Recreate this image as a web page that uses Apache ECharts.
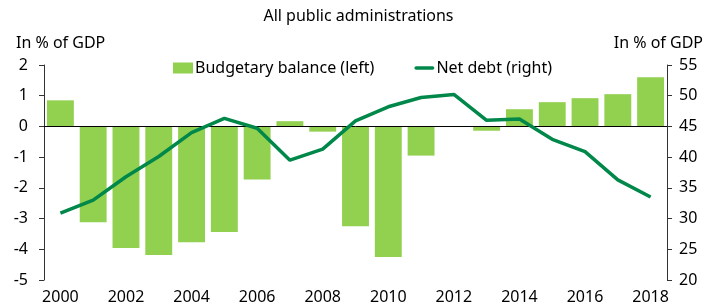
<!DOCTYPE html>
<html>
<head>
<meta charset="utf-8">
<script src="https://cdn.jsdelivr.net/npm/echarts@6/dist/echarts.min.js"></script>
<style>
  html, body { margin: 0; padding: 0; background: #fff; }
  #chart { width: 717px; height: 305px; }
</style>
</head>
<body>
<div id="chart"></div>
<script>
    // data
    var years = ['2000', '2001', '2002', '2003', '2004', '2005', '2006', '2007', '2008', '2009',
                 '2010', '2011', '2012', '2013', '2014', '2015', '2016', '2017', '2018'];
    var budgetBalance = [0.85, -3.12, -3.96, -4.19, -3.77, -3.44, -1.73, 0.17, -0.17, -3.25,
                         -4.25, -0.95, -0.02, -0.14, 0.56, 0.79, 0.92, 1.05, 1.6];
    var netDebt = [30.9, 33.0, 36.8, 40.1, 44.0, 46.3, 44.7, 39.5, 41.3, 45.9,
                   48.2, 49.7, 50.2, 46.0, 46.2, 42.9, 40.9, 36.3, 33.5];
    var leftTicks = [-5, 2, 1];   // min, max, interval
    var rightTicks = [20, 55, 5];

    var font = 'Noto Sans';
    var txt = '#000';

    var chart = echarts.init(document.getElementById('chart'));
    var option = {
        animation: false,
        textStyle: { fontFamily: font },
        title: [
            { text: 'All public administrations', left: 'center', top: 3,
              textStyle: { fontSize: 16, fontWeight: 'normal', color: txt, fontFamily: font } },
            { text: 'In % of GDP', left: 11, top: 30,
              textStyle: { fontSize: 16, fontWeight: 'normal', color: txt, fontFamily: font } },
            { text: 'In % of GDP', right: 9, top: 30,
              textStyle: { fontSize: 16, fontWeight: 'normal', color: txt, fontFamily: font } }
        ],
        legend: {
            top: 55,
            left: 168,
            itemGap: 40,
            itemWidth: 20,
            itemHeight: 11,
            textStyle: { fontSize: 16, color: txt, fontFamily: font, padding: [0, 0, 0, -3] },
            data: [
                { name: 'Budgetary balance (left)', icon: 'rect' },
                { name: 'Net debt (right)', icon: 'path://M2,0L20,0A2,2 0 0 1 20,4L2,4A2,2 0 0 1 2,0Z' }
            ]
        },
        grid: {
            left: 44,
            right: 50,
            top: 65,
            bottom: 24
        },
        xAxis: {
            type: 'category',
            data: years,
            axisLine: { show: false },
            axisTick: { show: false },
            axisLabel: { interval: 1, fontSize: 16, color: txt, margin: 9 }
        },
        yAxis: [{
            type: 'value',
            min: leftTicks[0],
            max: leftTicks[1],
            interval: leftTicks[2],
            position: 'left',
            splitLine: { show: false },
            axisLine: { show: true, lineStyle: { color: '#333', width: 1 } },
            axisTick: { show: true, length: 5, lineStyle: { color: '#333' } },
            axisLabel: { fontSize: 16, color: txt, margin: 16 }
        }, {
            type: 'value',
            min: rightTicks[0],
            max: rightTicks[1],
            interval: rightTicks[2],
            position: 'right',
            splitLine: { show: false },
            axisLine: { show: true, lineStyle: { color: '#333', width: 1 } },
            axisTick: { show: true, length: 5, lineStyle: { color: '#333' } },
            axisLabel: { fontSize: 16, color: txt, margin: 12 }
        }],
        series: [{
            name: 'Budgetary balance (left)',
            type: 'bar',
            yAxisIndex: 0,
            barCategoryGap: '18%',
            data: budgetBalance,
            itemStyle: { color: '#92d050' },
            markLine: {
                silent: true,
                symbol: 'none',
                label: { show: false },
                lineStyle: { color: '#000', width: 1, type: 'solid' },
                data: [{ yAxis: 0 }]
            }
        }, {
            name: 'Net debt (right)',
            type: 'line',
            yAxisIndex: 1,
            data: netDebt,
            symbol: 'none',
            lineStyle: { color: '#00884a', width: 3.5 },
            itemStyle: { color: '#00884a' },
            z: 5
        }]
    };
    chart.setOption(option);
</script>
</body>
</html>
